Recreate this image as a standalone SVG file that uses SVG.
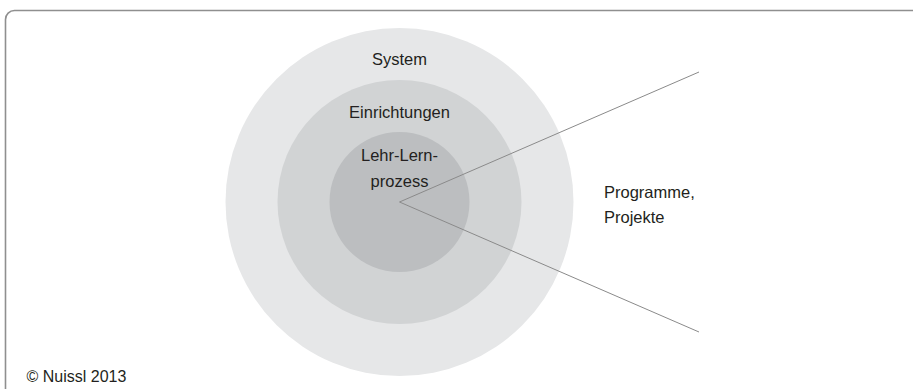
<svg xmlns="http://www.w3.org/2000/svg" width="913" height="389" viewBox="0 0 913 389">
<style>
  .lbl { font-family: "Liberation Sans", Arial, sans-serif; font-size: 16.5px; fill: #231f20; }
  .conn { stroke: #8a8a8a; stroke-width: 1; fill: none; }
</style>
<rect x="0" y="0" width="913" height="389" fill="#ffffff"/>
<rect id="frame" x="5.5" y="10.5" width="960" height="420" rx="9" ry="9" fill="#ffffff" stroke="#8f8f8f" stroke-width="1.6"/>
<g id="system">
  <circle cx="399.5" cy="202" r="174" fill="#e6e7e8"/>
  <text class="lbl" x="399.5" y="65" text-anchor="middle">System</text>
</g>
<g id="einrichtungen">
  <circle cx="399.5" cy="202" r="122" fill="#d1d3d4"/>
  <text class="lbl" x="399.5" y="117.5" text-anchor="middle">Einrichtungen</text>
</g>
<g id="lehr-lern-prozess">
  <circle cx="399.5" cy="202" r="70" fill="#bcbec0"/>
  <text class="lbl" x="399.5" y="161" text-anchor="middle">Lehr-Lern-</text>
  <text class="lbl" x="399.5" y="187" text-anchor="middle">prozess</text>
</g>
<g id="connectors">
  <line class="conn" x1="399.5" y1="202" x2="699" y2="72"/>
  <line class="conn" x1="399.5" y1="202" x2="699" y2="332"/>
</g>
<g id="programme">
  <text class="lbl" x="604" y="197.5">Programme,</text>
  <text class="lbl" x="604" y="223">Projekte</text>
</g>
<g id="copyright">
  <text class="lbl" x="26.5" y="381.5" style="font-size:16px">© Nuissl 2013</text>
</g>
</svg>
